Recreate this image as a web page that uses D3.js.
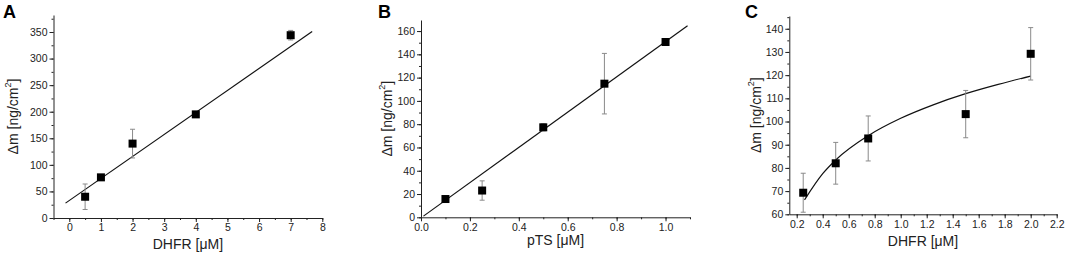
<!DOCTYPE html>
<html>
<head>
<meta charset="utf-8">
<script src="https://cdn.jsdelivr.net/npm/d3@7"></script>
<style>
  body { margin: 0; background: #fff; }
  svg { display: block; font-family: "Liberation Sans", Arial, sans-serif; }
</style>
</head>
<body>
<div id="wrapper"></div>
<script>
// Panel A: DHFR concentration vs mass change
const aConc = [0.5, 1, 2, 4, 7]
const aMass = [40, 76.5, 140, 195, 344]
const aErr = [24, 3, 27, 3, 9]
const aFitConc = [-0.12, 7.68]
const aFitMass = [28, 351]
const aXTicks = [0, 1, 2, 3, 4, 5, 6, 7, 8]
const aYTicks = [0, 50, 100, 150, 200, 250, 300, 350]

// Panel B: pTS concentration vs mass change
const bConc = [0.1, 0.25, 0.5, 0.75, 1.0]
const bMass = [15.7, 23, 77.3, 114.8, 150.6]
const bErr = [1, 8.3, 3, 26, 2]
const bFitConc = [0.01, 1.09]
const bFitMass = [1, 164.6]
const bXTicks = [0, 0.2, 0.4, 0.6, 0.8, 1.0]
const bYTicks = [0, 20, 40, 60, 80, 100, 120, 140, 160]

// Panel C: DHFR concentration vs mass change (saturating fit)
const cConc = [0.25, 0.5, 0.75, 1.5, 2.0]
const cMass = [69.3, 82, 92.7, 103.2, 129.2]
const cErr = [8.4, 9, 9.7, 10.2, 11.3]
const cFitConc = [0.26, 0.4, 0.5, 0.75, 1.0, 1.25, 1.5, 1.75, 2.0]
const cFitMass = [66.2, 77.5, 83.4, 93.9, 101.4, 107.2, 112, 116, 119.6]
const cXTicks = [0.2, 0.4, 0.6, 0.8, 1.0, 1.2, 1.4, 1.6, 1.8, 2.0, 2.2]
const cYTicks = [60, 70, 80, 90, 100, 110, 120, 130, 140]

const svg = d3
  .select("#wrapper")
  .append("svg")
  .attr("width", 1065)
  .attr("height", 255)

const panels = [
  {
    letter: "A", letterX: 3,
    conc: aConc, mass: aMass, err: aErr, fitConc: aFitConc, fitMass: aFitMass,
    xTicks: aXTicks, yTicks: aYTicks,
    xDomain: [-0.5, 8], yDomain: [0, 382],
    xMinorStep: 0.5, yMinorStep: 25, xFormat: d3.format("d"),
    left: 53.5, right: 322.3, top: 15, bottom: 218,
    xLabel: "DHFR", xLabelY: 249, yLabelX: 18, curve: d3.curveLinear,
  },
  {
    letter: "B", letterX: 378,
    conc: bConc, mass: bMass, err: bErr, fitConc: bFitConc, fitMass: bFitMass,
    xTicks: bXTicks, yTicks: bYTicks,
    xDomain: [0, 1.1], yDomain: [0, 169.5],
    xMinorStep: 0.1, yMinorStep: 10, xFormat: d3.format(".1f"),
    left: 421, right: 690, top: 20, bottom: 217.3,
    xLabel: "pTS", xLabelY: 245, yLabelX: 392, curve: d3.curveLinear,
  },
  {
    letter: "C", letterX: 745,
    conc: cConc, mass: cMass, err: cErr, fitConc: cFitConc, fitMass: cFitMass,
    xTicks: cXTicks, yTicks: cYTicks,
    xDomain: [0.143, 2.2], yDomain: [60, 145.5],
    xMinorStep: 0.1, yMinorStep: 5, xFormat: d3.format(".1f"),
    left: 789.3, right: 1056.7, top: 16, bottom: 214.3,
    xLabel: "DHFR", xLabelY: 246, yLabelX: 761, curve: d3.curveMonotoneX,
  },
]

const minorValues = (domain, step) =>
  d3.range(Math.ceil(domain[0] / step - 1e-9), Math.floor(domain[1] / step + 1e-9) + 1)
    .map((i) => +(i * step).toFixed(4))

panels.forEach((p) => {
  const xScale = d3.scaleLinear().domain(p.xDomain).range([p.left, p.right])
  const yScale = d3.scaleLinear().domain(p.yDomain).range([p.bottom, p.top])

  const g = svg.append("g")

  // axes: minor ticks first, then major with labels
  g.append("g")
    .attr("transform", `translate(0,${p.bottom})`)
    .call(d3.axisBottom(xScale).tickValues(minorValues(p.xDomain, p.xMinorStep)).tickSize(2).tickFormat(""))
    .call((a) => a.select(".domain").remove())
  g.append("g")
    .attr("transform", `translate(${p.left},0)`)
    .call(d3.axisLeft(yScale).tickValues(minorValues(p.yDomain, p.yMinorStep)).tickSize(2).tickFormat(""))
    .call((a) => a.select(".domain").remove())

  const xAxis = g.append("g")
    .attr("transform", `translate(0,${p.bottom})`)
    .call(d3.axisBottom(xScale).tickValues(p.xTicks).tickSize(4).tickSizeOuter(0).tickPadding(2).tickFormat(p.xFormat))
  const yAxis = g.append("g")
    .attr("transform", `translate(${p.left},0)`)
    .call(d3.axisLeft(yScale).tickValues(p.yTicks).tickSize(4).tickSizeOuter(0).tickPadding(2).tickFormat(d3.format("d")))

  g.selectAll(".tick text").attr("font-size", 10.5).attr("fill", "#222").attr("font-family", null)
  g.selectAll(".domain, .tick line").attr("stroke", "#222")

  // fit line
  const fit = d3.zip(p.fitConc, p.fitMass)
  g.append("path")
    .datum(fit)
    .attr("fill", "none")
    .attr("stroke", "#111")
    .attr("stroke-width", 1.2)
    .attr("d", d3.line().x((d) => xScale(d[0])).y((d) => yScale(d[1])).curve(p.curve))

  const pts = p.conc.map((c, i) => ({ c, m: p.mass[i], e: p.err[i] }))

  // error bars
  const eb = g.append("g").attr("stroke", "#8a8a8a").attr("stroke-width", 1)
  eb.selectAll(".bar").data(pts).join("line")
    .attr("x1", (d) => xScale(d.c)).attr("x2", (d) => xScale(d.c))
    .attr("y1", (d) => yScale(d.m - d.e)).attr("y2", (d) => yScale(d.m + d.e))
  eb.selectAll(".capTop").data(pts).join("line")
    .attr("x1", (d) => xScale(d.c) - 2.5).attr("x2", (d) => xScale(d.c) + 2.5)
    .attr("y1", (d) => yScale(d.m + d.e)).attr("y2", (d) => yScale(d.m + d.e))
  eb.selectAll(".capBot").data(pts).join("line")
    .attr("x1", (d) => xScale(d.c) - 2.5).attr("x2", (d) => xScale(d.c) + 2.5)
    .attr("y1", (d) => yScale(d.m - d.e)).attr("y2", (d) => yScale(d.m - d.e))

  // square markers
  g.selectAll("rect.pt").data(pts).join("rect")
    .attr("class", "pt")
    .attr("x", (d) => xScale(d.c) - 4)
    .attr("y", (d) => yScale(d.m) - 4)
    .attr("width", 8)
    .attr("height", 8)
    .attr("fill", "#000")

  // panel letter
  g.append("text")
    .attr("x", p.letterX)
    .attr("y", 18)
    .attr("font-size", 18)
    .attr("font-weight", "bold")
    .text(p.letter)

  // x label
  const xl = g.append("text")
    .attr("x", (p.left + p.right) / 2)
    .attr("y", p.xLabelY)
    .attr("text-anchor", "middle")
    .attr("font-size", 14)
    .attr("fill", "#222")
  xl.append("tspan").text(p.xLabel + " [\u03bcM]")

  // y label
  const yl = g.append("text")
    .attr("transform", `translate(${p.yLabelX},${(p.top + p.bottom) / 2}) rotate(-90)`)
    .attr("text-anchor", "middle")
    .attr("font-size", 14)
    .attr("fill", "#222")
  yl.append("tspan").text("\u0394m [ng/cm")
  yl.append("tspan").attr("font-size", 9).attr("dy", -7).text("2")
  yl.append("tspan").attr("dy", 7).text("]")
})
</script>
</body>
</html>
